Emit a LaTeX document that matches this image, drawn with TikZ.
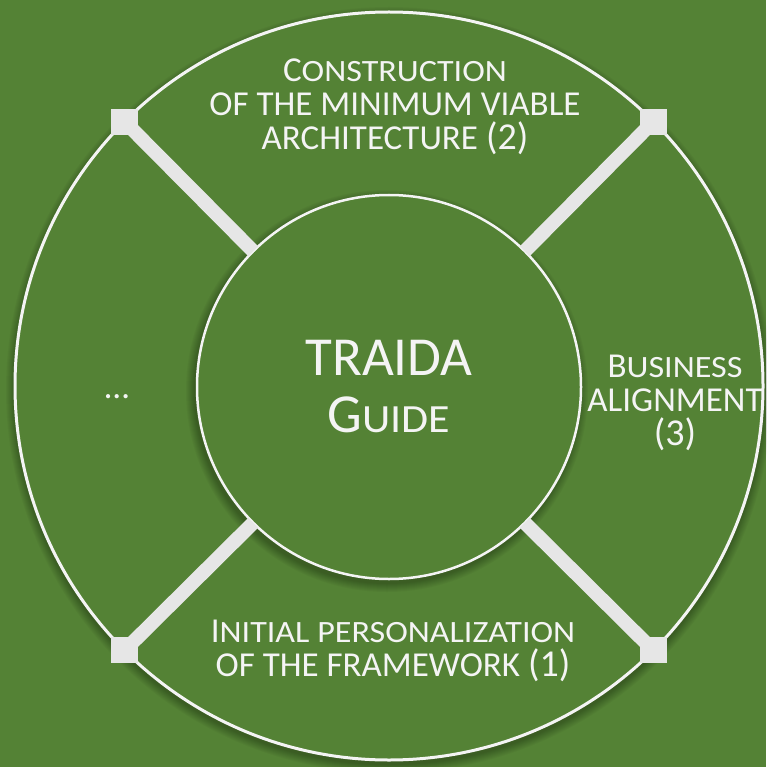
\documentclass[tikz,border=0pt]{standalone}
\usepackage{fontspec}
\setmainfont{Carlito}
\newfontfamily\scfont[FakeStretch=1.1]{Carlito}
\definecolor{leafgreen}{RGB}{84,130,53}
\definecolor{barwhite}{RGB}{230,230,230}
\definecolor{inkwhite}{RGB}{244,244,244}
% fake small capitals: upper case letters set smaller and a little wider
\newcommand{\smallcap}[2][31]{{\scfont\fontsize{#1}{#1}\selectfont #2}}
% phase number in brackets, set a little larger
\newcommand{\phaseno}[1]{{\fontsize{38}{34}\selectfont(#1)}}
\begin{document}
\begin{tikzpicture}[x=1pt, y=-1pt, font=\fontsize{35}{34}\selectfont,
    ring/.style={circle, draw=inkwhite, line width=3pt, fill=leafgreen,
      minimum size=748pt, inner sep=0pt, outer sep=0pt},
    hub/.style={circle, draw=inkwhite, line width=2.5pt, fill=leafgreen,
      minimum size=384pt, inner sep=0pt, outer sep=0pt, text=inkwhite,
      align=center, font=\fontsize{55}{60}\selectfont},
    bar/.style={barwhite, line width=14pt},
    joint/.style={fill=barwhite, minimum width=27pt, minimum height=26pt, inner sep=0pt},
    lbl/.style={text=inkwhite, align=center}]
  \fill[leafgreen] (0,0) rectangle (766,767);
  \useasboundingbox (0,0) rectangle (766,767);
  % soft shadows: stacked transparent discs under each circle
  \foreach \i in {1,...,9}
    \fill[black, opacity=0.03] (389,390) circle (374+\i);
  \node[ring] (ring) at (389,386) {};
  \foreach \i in {1,...,9}
    \fill[black, opacity=0.03] (387,391) circle (192+\i);
  \node[hub] (guide) at (389,387) {\raisebox{-3pt}{TRAIDA}\\G\smallcap[40]{UIDE}};
  % spokes out to the rim
  \draw[bar] (guide.135) -- (ring.135);
  \draw[bar] (guide.45) -- (ring.45);
  \draw[bar] (guide.-45) -- (ring.-45);
  \draw[bar] (guide.-135) -- (ring.-135);
  \node[joint] (jnw) at (ring.135) {};
  \node[joint] (jne) at (ring.45) {};
  \node[joint] (jse) at (ring.-45) {};
  \node[joint] (jsw) at (ring.-135) {};
  % the four phases
  \node[lbl] (mva) at (395,107) {C\smallcap{ONSTRUCTION}\\OF THE MINIMUM VIABLE\\ARCHITECTURE \phaseno{2}};
  \node[lbl] (biz) at (675,403) {B\smallcap{USINESS}\\ALIGNMENT\\\phaseno{3}};
  \node[lbl] (perso) at (393,651) {I\smallcap{NITIAL PERSONALIZATION}\\OF THE FRAMEWORK \phaseno{1}};
  \node[lbl] (more) at (117,397) {…};
\end{tikzpicture}
\end{document}
